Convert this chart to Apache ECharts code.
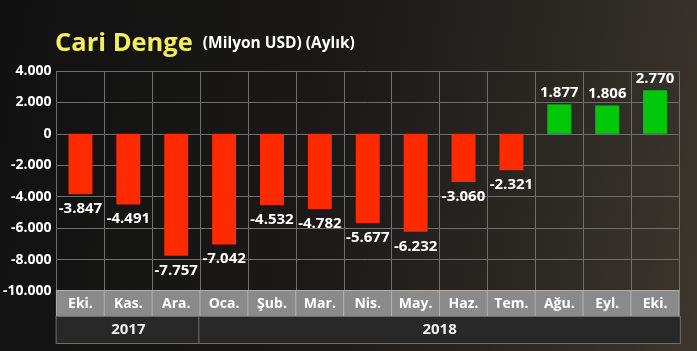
<!DOCTYPE html>
<html>
<head>
<meta charset="utf-8">
<script src="https://cdn.jsdelivr.net/npm/echarts@6/dist/echarts.min.js"></script>
<style>
  html, body { margin: 0; padding: 0; }
  body { background: linear-gradient(100deg, #111111 0%, #1a1918 45%, #2e2a25 80%, #3d362e 100%); }
  #chart { width: 697px; height: 351px; }
</style>
</head>
<body>
<div id="chart"></div>
<script>
// aylar ve degerler (milyon USD)
var months = ['Eki.', 'Kas.', 'Ara.', 'Oca.', 'Şub.', 'Mar.', 'Nis.', 'May.', 'Haz.', 'Tem.', 'Ağu.', 'Eyl.', 'Eki.'];
var values = [-3847, -4491, -7757, -7042, -4532, -4782, -5677, -6232, -3060, -2321, 1877, 1806, 2770];
var years = ['2017', '2018'];
var yearSpan = [3, 10];   // kac ay hangi yila ait

var fmt = function (v) {
    var s = Math.abs(v).toString().replace(/\B(?=(\d{3})+(?!\d))/g, '.');
    return (v < 0 ? '-' : '') + s;
};

var cellW = (679 - 53) / months.length;

// her yil icin ayri bir eksen (etiketler birbirini gizlemesin)
var yearAxes = [], acc = 0;
for (var i = 0; i < years.length; i++) {
    var center = acc + yearSpan[i] / 2;
    acc += yearSpan[i];
    yearAxes.push({
        type: 'value',
        position: 'bottom',
        offset: 26,
        min: 0, max: months.length,
        axisLine: {show: false},
        splitLine: {show: false},
        axisTick: {show: false},
        axisLabel: {
            margin: 0,
            showMinLabel: true, showMaxLabel: true,
            customValues: [center],
            formatter: (function (txt) { return function () { return txt; }; })(years[i]),
            width: cellW * yearSpan[i] - 1, height: 26, lineHeight: 26, align: 'center', verticalAlign: 'top',
            color: '#eeeeee', fontWeight: 'bold', fontSize: 15, fontFamily: 'Open Sans',
            backgroundColor: '#282828', borderColor: '#6e6e6e', borderWidth: 1
        }
    });
}

var chart = echarts.init(document.getElementById('chart'), null, {renderer: 'canvas'});

var option = {
    backgroundColor: 'transparent',
    textStyle: {fontFamily: 'Open Sans'},
    title: {
        left: 50, top: 26,
        text: '{a|Cari Denge}{b|(Milyon USD) (Aylık)}',
        textStyle: {
            rich: {
                a: {color: '#f3ef5b', fontSize: 25.5, fontWeight: 'bold', fontFamily: 'Open Sans'},
                b: {color: '#ffffff', fontSize: 15.5, fontWeight: 'bold', fontFamily: 'Open Sans', padding: [0, 0, 0, 10]}
            }
        }
    },
    grid: {left: 53, right: 18, top: 71, bottom: 60, containLabel: false},
    xAxis: [{
        type: 'category',
        data: months,
        axisLine: {show: false},
        axisTick: {show: false},
        splitLine: {show: true, interval: 0, lineStyle: {color: '#6e6e6e', width: 1}},
        axisLabel: {
            interval: 0, margin: 0,
            color: '#ffffff', fontWeight: 'bold', fontSize: 14, fontFamily: 'Open Sans',
            backgroundColor: '#8a8a8a', borderColor: '#b0b0b0', borderWidth: 1,
            width: cellW - 1, height: 26, lineHeight: 26, align: 'center', verticalAlign: 'top'
        }
    }].concat(yearAxes),
    yAxis: {
        type: 'value',
        min: -10000, max: 4000, interval: 2000,
        axisLine: {show: false},
        axisTick: {show: false},
        splitLine: {lineStyle: {color: '#6e6e6e', width: 1}},
        axisLabel: {
            margin: 5,
            color: '#ffffff', fontWeight: 'bold', fontSize: 14, fontFamily: 'Open Sans',
            formatter: fmt
        }
    },
    series: [{
        type: 'bar',
        xAxisIndex: 0,
        barWidth: '50%',
        data: values.map(function (v) {
            return {
                value: v,
                itemStyle: {color: v < 0 ? '#ff2a00' : '#00c70a'},
                label: {position: v < 0 ? 'bottom' : 'top', distance: v < 0 ? 7 : 4}
            };
        }),
        label: {
            show: true,
            color: '#ffffff', fontWeight: 'bold', fontSize: 15, fontFamily: 'Open Sans',
            formatter: function (p) { return fmt(p.value); }
        }
    }]
};
chart.setOption(option);
</script>
</body>
</html>
